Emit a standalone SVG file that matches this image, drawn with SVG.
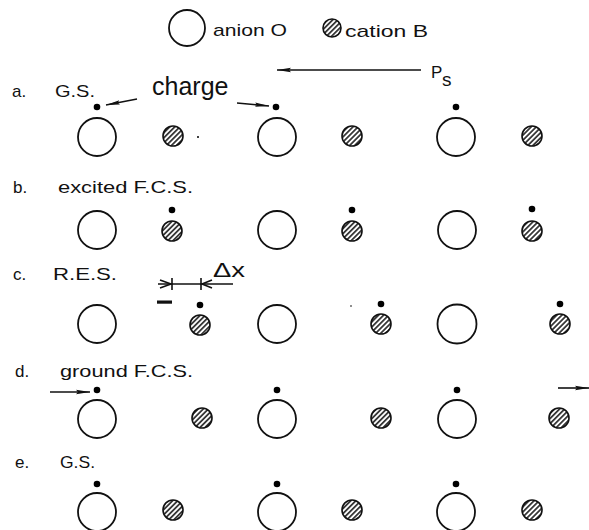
<svg xmlns="http://www.w3.org/2000/svg" width="589" height="530" viewBox="0 0 589 530">
  <style>
    .anion { fill: #fff; stroke: #111; stroke-width: 1.8; }
    .cation { fill: url(#hatch); stroke: #111; stroke-width: 1.6; }
    .chg { fill: #000; }
    .lbl { font-family: "Liberation Sans", Arial, sans-serif; font-size: 17px; fill: #111; }
    .line { stroke: #111; stroke-width: 1.6; fill: none; }
  </style>
  <defs>
    <pattern id="hatch" width="3.6" height="3.6" patternUnits="userSpaceOnUse" patternTransform="rotate(45)">
      <rect width="3.6" height="3.6" fill="#fff"/>
      <line x1="0.9" y1="0" x2="0.9" y2="3.6" stroke="#111" stroke-width="1.5"/>
    </pattern>
    <marker id="head" viewBox="0 0 14 6" refX="14" refY="3" markerWidth="14" markerHeight="6" markerUnits="userSpaceOnUse" orient="auto">
      <path d="M0,0.8 L14,3 L0,5.2 L2,3 Z" fill="#111"/>
    </marker>
  </defs>

  <!-- legend -->
  <g id="legend">
    <circle class="anion" cx="187" cy="28" r="18"/>
    <text class="lbl" x="213" y="36" textLength="74" lengthAdjust="spacingAndGlyphs">anion O</text>
    <circle class="cation" cx="332" cy="28" r="9"/>
    <text class="lbl" x="345" y="37" textLength="83" lengthAdjust="spacingAndGlyphs">cation B</text>
  </g>

  <!-- polarization label -->
  <g id="ps">
    <text class="lbl" x="431" y="78">P</text>
    <text class="lbl" x="442" y="86" style="font-size:19px">s</text>
  </g>

  <!-- row a: ground state -->
  <g id="row-a">
    <text class="lbl" x="12" y="97">a.</text>
    <text class="lbl" x="55" y="97" textLength="40" lengthAdjust="spacingAndGlyphs">G.S.</text>
    <text x="152" y="95" font-family="Liberation Sans, Arial, sans-serif" font-size="25" fill="#111">charge</text>
    <circle class="chg" cx="97" cy="107" r="3.3"/>
    <circle class="anion" cx="97" cy="137" r="19"/>
    <circle class="cation" cx="173" cy="136" r="10"/>
    <circle class="chg" cx="198" cy="137" r="1"/>
    <circle class="chg" cx="276" cy="107" r="3.3"/>
    <circle class="anion" cx="277" cy="137" r="19"/>
    <circle class="cation" cx="352" cy="136" r="10"/>
    <circle class="chg" cx="456" cy="107" r="3.3"/>
    <circle class="anion" cx="456" cy="137" r="19"/>
    <circle class="cation" cx="532" cy="136" r="10"/>
  </g>

  <!-- row b: excited Franck-Condon state -->
  <g id="row-b">
    <text class="lbl" x="13" y="193">b.</text>
    <text class="lbl" x="58" y="193" textLength="135" lengthAdjust="spacingAndGlyphs">excited  F.C.S.</text>
    <circle class="anion" cx="97" cy="230" r="19"/>
    <circle class="chg" cx="172" cy="210" r="3.3"/>
    <circle class="cation" cx="172" cy="231" r="10"/>
    <circle class="anion" cx="277" cy="230" r="19"/>
    <circle class="chg" cx="352" cy="210" r="3.3"/>
    <circle class="cation" cx="352" cy="231" r="10"/>
    <circle class="anion" cx="457" cy="230" r="19"/>
    <circle class="chg" cx="532" cy="209" r="3.3"/>
    <circle class="cation" cx="532" cy="231" r="10"/>
  </g>

  <!-- row c: relaxed excited state -->
  <g id="row-c">
    <text class="lbl" x="13" y="280">c.</text>
    <text class="lbl" x="53" y="280" textLength="64" lengthAdjust="spacingAndGlyphs">R.E.S.</text>
    <rect x="157" y="300.5" width="15" height="3.2" fill="#111"/>
    <circle class="anion" cx="97" cy="324" r="19"/>
    <circle class="chg" cx="200" cy="305" r="3.3"/>
    <circle class="cation" cx="200" cy="325" r="10"/>
    <circle class="anion" cx="277" cy="324" r="19"/>
    <circle class="chg" cx="351" cy="306" r="0.8"/>
    <circle class="chg" cx="381" cy="304" r="3.3"/>
    <circle class="cation" cx="381" cy="324" r="10"/>
    <circle class="anion" cx="457" cy="324" r="19.5"/>
    <circle class="chg" cx="560" cy="304" r="3.3"/>
    <circle class="cation" cx="560" cy="324" r="10"/>
  </g>

  <!-- displacement dimension -->
  <g id="dx">
    <line class="line" x1="158" y1="284" x2="233" y2="284" stroke-width="1.3"/>
    <line class="line" x1="172" y1="278" x2="172" y2="290" stroke-width="1.3"/>
    <line class="line" x1="201" y1="278" x2="201" y2="290" stroke-width="1.3"/>
    <path class="line" d="M160,280 L171,284 L160,288" stroke-width="1.3"/>
    <path class="line" d="M212,280 L202,284 L212,288" stroke-width="1.3"/>
    <text x="213" y="277" font-family="Liberation Sans, Arial, sans-serif" font-size="20" fill="#111" textLength="32" lengthAdjust="spacingAndGlyphs">Δx</text>
  </g>

  <!-- row d: ground Franck-Condon state -->
  <g id="row-d">
    <text class="lbl" x="15" y="377">d.</text>
    <text class="lbl" x="60" y="377" textLength="133" lengthAdjust="spacingAndGlyphs">ground  F.C.S.</text>
    <circle class="chg" cx="97" cy="390" r="3.3"/>
    <circle class="anion" cx="97" cy="419" r="19"/>
    <circle class="cation" cx="202" cy="418" r="10"/>
    <circle class="chg" cx="277" cy="390" r="3.3"/>
    <circle class="anion" cx="277" cy="419" r="19"/>
    <circle class="cation" cx="381" cy="418" r="10"/>
    <circle class="chg" cx="457" cy="390" r="3.3"/>
    <circle class="anion" cx="457" cy="419" r="19"/>
    <circle class="cation" cx="559" cy="418" r="10"/>
  </g>

  <!-- row e: ground state -->
  <g id="row-e">
    <text class="lbl" x="15" y="468">e.</text>
    <text class="lbl" x="60" y="468" textLength="35" lengthAdjust="spacingAndGlyphs">G.S.</text>
    <circle class="chg" cx="97" cy="484" r="3.3"/>
    <circle class="anion" cx="97" cy="512" r="19"/>
    <circle class="cation" cx="173" cy="510" r="10"/>
    <circle class="chg" cx="277" cy="484" r="3.3"/>
    <circle class="anion" cx="277" cy="512" r="19"/>
    <circle class="cation" cx="352" cy="510" r="10"/>
    <circle class="chg" cx="456" cy="484" r="3.3"/>
    <circle class="anion" cx="456" cy="512" r="19"/>
    <circle class="cation" cx="532" cy="510" r="10"/>
  </g>

  <!-- arrows -->
  <g id="connectors">
    <line class="line" x1="421" y1="70" x2="277" y2="70" marker-end="url(#head)"/>
    <line class="line" x1="137" y1="99" x2="106" y2="105" marker-end="url(#head)"/>
    <line class="line" x1="237" y1="103" x2="269" y2="106" marker-end="url(#head)"/>
    <line class="line" x1="50" y1="392" x2="90" y2="392" marker-end="url(#head)"/>
    <line class="line" x1="558" y1="388" x2="589" y2="388" marker-end="url(#head)"/>
  </g>
</svg>
